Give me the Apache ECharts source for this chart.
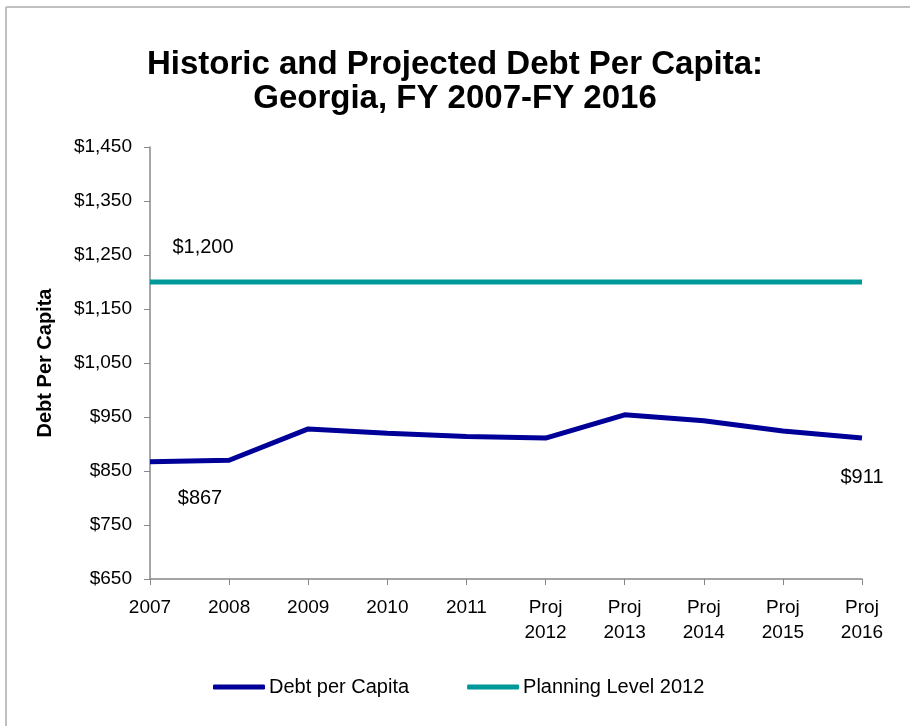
<!DOCTYPE html>
<html><head><meta charset="utf-8">
<script src="https://cdn.jsdelivr.net/npm/echarts@6/dist/echarts.min.js"></script>
<style>html,body{margin:0;padding:0;background:#fff}#c{width:910px;height:726px}</style>
</head><body><div id="c"></div>
<script>
const categories = ['2007','2008','2009','2010','2011','Proj\n2012','Proj\n2013','Proj\n2014','Proj\n2015','Proj\n2016'];
const debtPerCapita = [867, 870, 928, 920, 914, 911, 954, 943, 924, 911];
const planningLevel = [1200, 1200, 1200, 1200, 1200, 1200, 1200, 1200, 1200, 1200];
const yTicks = [650, 750, 850, 950, 1050, 1150, 1250, 1350, 1450];

const fmt = v => '$' + v.toLocaleString('en-US');
const F = 'Liberation Sans, Arial, sans-serif';

const debtData = debtPerCapita.map((v, i) => {
  if (i === 0) return {value: v, label: {show: true, position: 'bottom', offset: [50, 22]}};
  if (i === debtPerCapita.length - 1) return {value: v, label: {show: true, position: 'bottom', offset: [0, 24]}};
  return v;
});
const planData = planningLevel.map((v, i) => {
  if (i === 0) return {value: v, label: {show: true, position: 'top', offset: [53, -20]}};
  return v;
});

const chart = echarts.init(document.getElementById('c'));
chart.setOption({
  animation: false,
  backgroundColor: '#fff',
  title: {
    text: 'Historic and Projected Debt Per Capita:\nGeorgia, FY 2007-FY 2016',
    left: 'center', top: 43,
    textStyle: {fontFamily: F, fontWeight: 'bold', fontSize: 33, color: '#000', lineHeight: 34}
  },
  graphic: [
    {type: 'line', shape: {x1: 6, y1: 7, x2: 910, y2: 7}, style: {stroke: '#c0c0c0', lineWidth: 2}},
    {type: 'line', shape: {x1: 6, y1: 7, x2: 6, y2: 726}, style: {stroke: '#c0c0c0', lineWidth: 2}}
  ],
  grid: {left: 150, right: 48, top: 147, bottom: 147},
  legend: {
    bottom: 24, left: 208, itemGap: 58, itemWidth: 52, itemHeight: 5,
    icon: 'roundRect',
    textStyle: {fontFamily: F, fontSize: 20, color: '#000', padding: [0, 0, 0, -1]},
    data: ['Debt per Capita', 'Planning Level 2012']
  },
  xAxis: {
    type: 'category', data: categories, boundaryGap: false,
    axisLine: {lineStyle: {color: '#888', width: 1.5}},
    axisTick: {show: true, length: 6, lineStyle: {color: '#888'}},
    axisLabel: {fontFamily: F, fontSize: 19, color: '#000', margin: 16, lineHeight: 25}
  },
  yAxis: {
    type: 'value', min: yTicks[0], max: yTicks[yTicks.length - 1], interval: 100,
    name: 'Debt Per Capita', nameLocation: 'middle', nameGap: 95, nameRotate: 90,
    nameTextStyle: {fontFamily: F, fontWeight: 'bold', fontSize: 20, color: '#000'},
    axisLine: {show: true, lineStyle: {color: '#888', width: 1.5}},
    axisTick: {show: true, length: 6, lineStyle: {color: '#888'}},
    splitLine: {show: false},
    axisLabel: {fontFamily: F, fontSize: 19, color: '#000', margin: 18, formatter: v => fmt(v)}
  },
  series: [
    {
      name: 'Debt per Capita', type: 'line', data: debtData,
      symbol: 'circle', symbolSize: 0, showSymbol: true,
      lineStyle: {color: '#000099', width: 5}, itemStyle: {color: '#000099'},
      label: {show: false, fontFamily: F, fontSize: 20, color: '#000', formatter: p => fmt(p.value)}
    },
    {
      name: 'Planning Level 2012', type: 'line', data: planData,
      symbol: 'circle', symbolSize: 0, showSymbol: true,
      lineStyle: {color: '#009999', width: 5}, itemStyle: {color: '#009999'},
      label: {show: false, fontFamily: F, fontSize: 20, color: '#000', formatter: p => fmt(p.value)}
    }
  ]
});
</script></body></html>
